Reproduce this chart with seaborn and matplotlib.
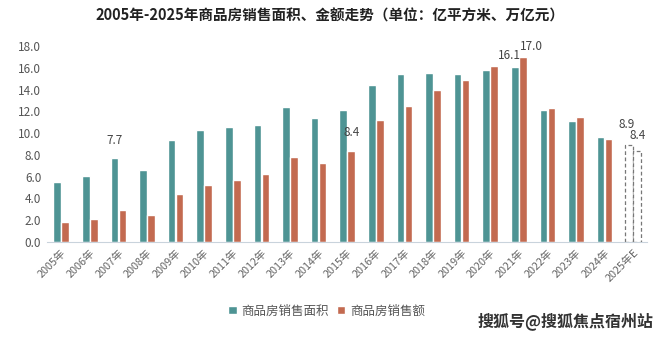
import matplotlib
matplotlib.use("Agg")
import matplotlib.pyplot as plt
import seaborn as sns
import pandas as pd

years = ["2005年", "2006年", "2007年", "2008年", "2009年", "2010年", "2011年",
         "2012年", "2013年", "2014年", "2015年", "2016年", "2017年", "2018年",
         "2019年", "2020年", "2021年", "2022年", "2023年", "2024年", "2025年E"]
area = [5.5, 6.1, 7.7, 6.6, 9.4, 10.3, 10.6, 10.7, 12.4, 11.4, 12.1, 14.4, 15.4,
        15.5, 15.4, 15.8, 16.1, 12.1, 11.1, 9.6, 8.9]
amount = [1.8, 2.1, 2.9, 2.5, 4.4, 5.2, 5.7, 6.2, 7.8, 7.3, 8.4, 11.2, 12.5,
          14.0, 14.9, 16.2, 17.0, 12.3, 11.5, 9.5, 8.4]
series = ["商品房销售面积", "商品房销售额"]
colors = ["#4e9494", "#c36a50"]
yticks = [0, 2, 4, 6, 8, 10, 12, 14, 16, 18]

df = pd.DataFrame({
    "year": years * 2,
    "value": area + amount,
    "series": [series[0]] * len(years) + [series[1]] * len(years),
})

sns.set_theme(style="white")
plt.rcParams["font.family"] = ["Noto Sans CJK SC", "DejaVu Sans"]

fig = plt.figure(figsize=(6.6, 3.38), dpi=100)
ax = fig.add_axes([0.071, 0.284, 0.91, 0.58])

sns.barplot(data=df, x="year", y="value", hue="series", palette=colors,
            width=0.56, gap=0.04, ax=ax, legend=True, saturation=1)

# forecast bars: dashed outline, no fill
for cont in ax.containers:
    last = cont.patches[-1]
    last.set_facecolor("white")
    last.set_edgecolor("#777777")
    last.set_linestyle((0, (3, 2)))
    last.set_linewidth(0.9)

ax.set_ylim(0, 18)
ax.set_yticks(yticks)
ax.set_yticklabels([f"{v:.1f}" for v in yticks], fontsize=8.5, color="#555555")
ax.set_xlim(-0.5, len(years) - 0.5)
ax.set_xticks(range(len(years)))
ax.set_xticklabels(years, rotation=45, ha="right", rotation_mode="anchor",
                   fontsize=7.8, color="#666666")
ax.tick_params(axis="both", length=0, pad=4)
ax.set_xlabel("")
ax.set_ylabel("")
for s in ["top", "right", "left"]:
    ax.spines[s].set_visible(False)
ax.spines["bottom"].set_color("#c9d3dc")
ax.spines["bottom"].set_linewidth(0.8)

# value labels
area_bars = ax.containers[0].patches
amt_bars = ax.containers[1].patches
labels = [
    (area_bars[2], area[2], 0, 8),
    (amt_bars[10], amount[10], 0, 8),
    (area_bars[16], area[16], -4, 3),
    (amt_bars[16], amount[16], 6, 3),
    (area_bars[20], area[20], -2, 10),
    (amt_bars[20], amount[20], 0, 6),
]
for bar, val, dx, dy in labels:
    ax.annotate(f"{val:.1f}", (bar.get_x() + bar.get_width() / 2, bar.get_height()),
                xytext=(dx, dy), textcoords="offset points", ha="center", va="bottom",
                fontsize=8.5, color="#444444")

leg = fig.legend(*ax.get_legend_handles_labels(), loc="center",
                 bbox_to_anchor=(0.495, 0.08), ncol=2, frameon=False,
                 fontsize=9, handlelength=0.7, handleheight=0.7, handletextpad=0.4,
                 columnspacing=0.6)
ax.get_legend().remove()
for t in leg.get_texts():
    t.set_color("#555555")

fig.text(0.5, 0.955, "2005年-2025年商品房销售面积、金额走势（单位：亿平方米、万亿元）",
         ha="center", va="center", fontsize=10.5, fontweight="bold", color="#222222")
fig.text(0.99, 0.05, "搜狐号@搜狐焦点宿州站", ha="right", va="center",
         fontsize=11.5, fontweight="bold", color="#333333")

fig.savefig("out.png", dpi=100, facecolor="white")
